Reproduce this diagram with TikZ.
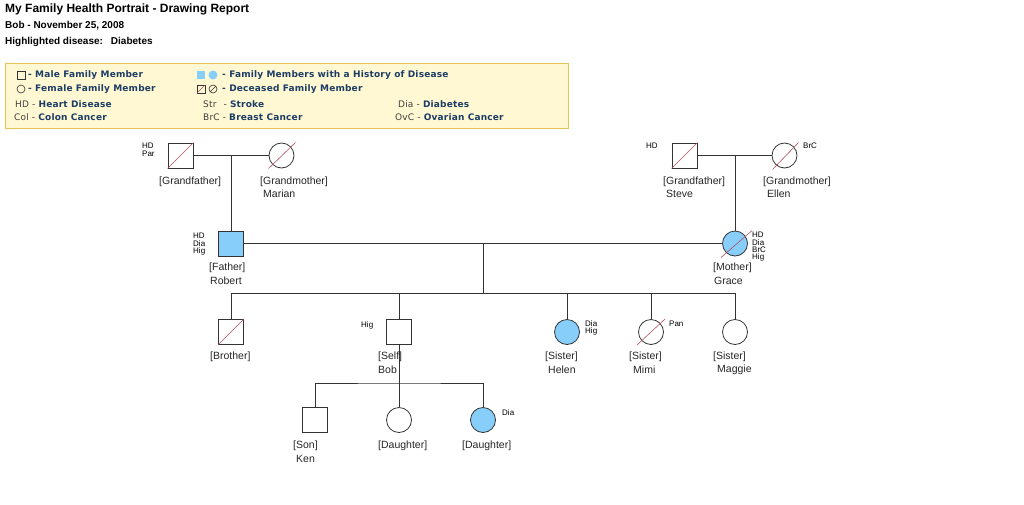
\documentclass[tikz,border=0pt]{standalone}
\usepackage{fontspec}
\setmainfont{Liberation Sans}
\newfontfamily\legendfont[LetterSpace=2]{DejaVu Sans}

\definecolor{lightblue}{HTML}{87CEFA}
\definecolor{slashred}{HTML}{B05060}
\definecolor{legendfill}{HTML}{FFF8D2}
\definecolor{legendline}{HTML}{E6C650}
\definecolor{legendblue}{HTML}{1C3D66}
\definecolor{linegray}{HTML}{333333}

\tikzset{
  male/.style={draw=linegray, rectangle, minimum size=25pt, inner sep=0, line width=0.8pt},
  female/.style={draw=linegray, circle, minimum size=25pt, inner sep=0, line width=0.8pt},
  affected/.style={fill=lightblue},
  link/.style={draw=linegray, line width=0.8pt},
  slash/.style={draw=slashred, line width=0.6pt},
  tag/.style={anchor=west, inner sep=0, font=\fontsize{10.5}{12}\selectfont, text=black!85},
  dis/.style={anchor=north west, inner sep=0, align=left, font=\fontsize{8}{7.4}\selectfont},
  leg/.style={anchor=west, inner sep=0, font=\legendfont\fontsize{9}{10}\selectfont\bfseries, text=legendblue},
  legabbr/.style={anchor=west, inner sep=0, font=\legendfont\fontsize{9}{10}\selectfont, text=black!75},
}

\begin{document}
\begin{tikzpicture}[x=1pt, y=-1pt]
  \fill[white] (0,0) rectangle (1024,504);
  \useasboundingbox (0,0) rectangle (1024,504);

  % heading
  \node[anchor=west, inner sep=0, font=\bfseries\fontsize{12}{14}\selectfont] (title) at (5,9) {My Family Health Portrait - Drawing Report};
  \node[anchor=west, inner sep=0, font=\bfseries\fontsize{10}{12}\selectfont] (who) at (5,26) {Bob - November 25, 2008};
  \node[anchor=west, inner sep=0, font=\bfseries\fontsize{10}{12}\selectfont] (hilite) at (5,42) {Highlighted disease:\hspace{8pt}Diabetes};

  % legend
  \draw[fill=legendfill, draw=legendline, line width=0.8pt] (5,63) rectangle (568,128);
  \draw[linegray, line width=0.6pt] (17,71) rectangle (25,79);
  \draw[linegray, line width=0.6pt] (21,89) circle [radius=4];
  \fill[lightblue] (197,71) rectangle (205,79);
  \fill[lightblue] (213,75) circle [radius=4.5];
  \draw[linegray, line width=0.6pt] (197,85) rectangle (205,93);
  \draw[slash] (197,93) -- (205,85);
  \draw[linegray, line width=0.6pt] (213,89) circle [radius=4];
  \draw[linegray, line width=0.5pt] (210,92) -- (216,86);
  \node[leg] (lmale) at (28,75) {- Male Family Member};
  \node[leg] (lfemale) at (28,89) {- Female Family Member};
  \node[leg] (lhist) at (222,75) {- Family Members with a History of Disease};
  \node[leg] (ldead) at (222,89) {- Deceased Family Member};
  \node[legabbr] (lhd) at (15,104) {HD - \textbf{\color{legendblue}Heart Disease}};
  \node[legabbr] (lcol) at (14,117) {Col - \textbf{\color{legendblue}Colon Cancer}};
  \node[legabbr] (lstr) at (203,104) {Str\hspace{4pt} - \textbf{\color{legendblue}Stroke}};
  \node[legabbr] (lbrc) at (203,117) {BrC - \textbf{\color{legendblue}Breast Cancer}};
  \node[legabbr] (ldia) at (398,104) {Dia - \textbf{\color{legendblue}Diabetes}};
  \node[legabbr] (lovc) at (395,117) {OvC - \textbf{\color{legendblue}Ovarian Cancer}};

  % grandparents, father's side
  \node[male] (pgf) at (180.5,155.5) {};
  \draw[slash] (pgf.south west) -- (pgf.north east);
  \node[female] (pgm) at (281.5,155.5) {};
  \draw[slash] ([shift={(-13,13)}]pgm.center) -- ([shift={(14,-13)}]pgm.center);
  % grandparents, mother's side
  \node[male] (mgf) at (684.5,155.5) {};
  \draw[slash] (mgf.south west) -- (mgf.north east);
  \node[female] (mgm) at (784.5,155.5) {};
  \draw[slash] ([shift={(-12,14)}]mgm.center) -- ([shift={(14,-13)}]mgm.center);
  % parents
  \node[male, affected] (dad) at (231,243.5) {};
  \node[female, affected] (mom) at (735,243.5) {};
  \draw[slash] ([shift={(-14,14)}]mom.center) -- ([shift={(17,-13)}]mom.center);
  % children
  \node[male] (bro) at (231,332) {};
  \draw[slash] (bro.south west) -- (bro.north east);
  \node[male] (self) at (399,332) {};
  \node[female, affected] (helen) at (567,332) {};
  \node[female] (mimi) at (651,332) {};
  \draw[slash] ([shift={(-14,13)}]mimi.center) -- ([shift={(14,-13)}]mimi.center);
  \node[female] (maggie) at (735,332) {};
  % grandchildren
  \node[male] (son) at (315,420) {};
  \node[female] (dau1) at (399,420) {};
  \node[female, affected] (dau2) at (483,420) {};

  % junctions
  \coordinate (pj) at (231,155.5);
  \coordinate (mj) at (735,155.5);
  \coordinate (cj) at (483,243.5);
  \coordinate (sj) at (483,293.5);
  \coordinate (bj) at (399,383);

  % couple and descent lines
  \draw[link] (pgf) -- (pgm);
  \draw[link] (pj) -- (dad);
  \draw[link] (mgf) -- (mgm);
  \draw[link] (mj) -- (mom);
  \draw[link] (dad) -- (mom);
  \draw[link] (cj) -- (sj);
  \draw[link] (bro) |- (sj) -| (maggie);
  \foreach \kid in {self, helen, mimi}
    \draw[link] (\kid) |- (sj);
  \draw[link] (self) -- (bj);
  \draw[link] (son) |- (bj) -| (dau2);
  \draw[link] (dau1) -- (bj);

  % names
  \node[tag] (pgft) at (159,182) {[Grandfather]};
  \node[tag] (pgmt) at (260,182) {[Grandmother]};
  \node[tag] (pgmn) at (263,194) {Marian};
  \node[tag] (mgft) at (663,182) {[Grandfather]};
  \node[tag] (mgfn) at (666,194) {Steve};
  \node[tag] (mgmt) at (763,182) {[Grandmother]};
  \node[tag] (mgmn) at (767,194) {Ellen};
  \node[tag] (dadt) at (209,268) {[Father]};
  \node[tag] (dadn) at (210,281) {Robert};
  \node[tag] (momt) at (713,268) {[Mother]};
  \node[tag] (momn) at (714,281) {Grace};
  \node[tag] (brot) at (210,357) {[Brother]};
  \node[tag] (selft) at (378,357) {[Self]};
  \node[tag] (selfn) at (378,370) {Bob};
  \node[tag] (helent) at (545,357) {[Sister]};
  \node[tag] (helenn) at (548,370) {Helen};
  \node[tag] (mimit) at (629,357) {[Sister]};
  \node[tag] (mimin) at (633,370) {Mimi};
  \node[tag] (maggiet) at (713,357) {[Sister]};
  \node[tag] (maggien) at (717,370) {Maggie};
  \node[tag] (sont) at (293,446) {[Son]};
  \node[tag] (sonn) at (296,459) {Ken};
  \node[tag] (dau1t) at (378,446) {[Daughter]};
  \node[tag] (dau2t) at (462,446) {[Daughter]};

  % disease codes
  \node[dis] (pgfd) at (142,143) {HD\\Par};
  \node[dis] (dadd) at (193,233) {HD\\Dia\\Hig};
  \node[dis] (mgfd) at (646,143) {HD};
  \node[dis] (mgmd) at (803,143) {BrC};
  \node[dis] (momd) at (752,232) {HD\\Dia\\BrC\\Hig};
  \node[dis] (selfd) at (361,321) {Hig};
  \node[dis] (helend) at (585,320) {Dia\\Hig};
  \node[dis] (mimid) at (669,321) {Pan};
  \node[dis] (dau2d) at (502,409) {Dia};
\end{tikzpicture}
\end{document}
